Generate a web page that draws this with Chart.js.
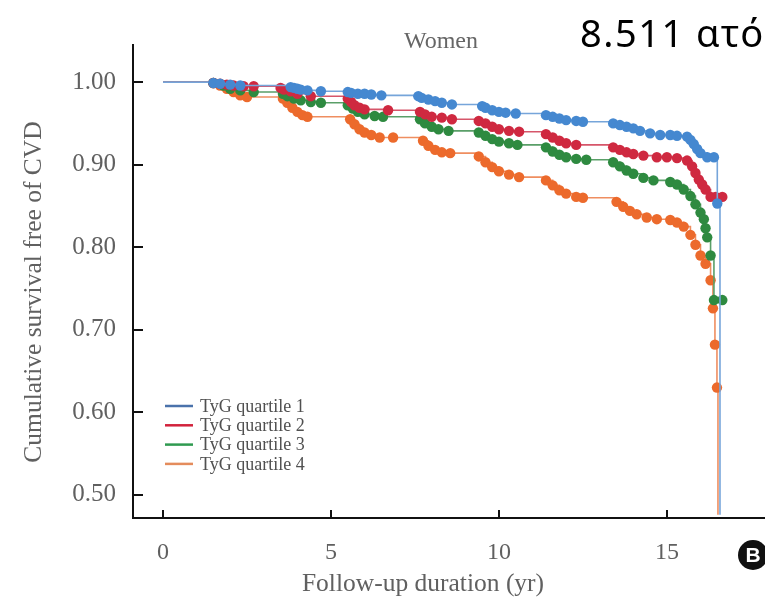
<!DOCTYPE html>
<html><head><meta charset="utf-8">
<script src="https://cdn.jsdelivr.net/npm/chart.js@4.4.1/dist/chart.umd.min.js"></script>
<style>html,body{margin:0;padding:0;background:#fff;overflow:hidden;} canvas{display:block;}</style>
</head><body>
<canvas id="c" width="765" height="602"></canvas>
<script>
// ---- data ----
const seriesLabels = ['TyG quartile 1', 'TyG quartile 2', 'TyG quartile 3', 'TyG quartile 4'];

const q1Time = [0, 1.5, 1.7, 2.0, 2.3, 3.8, 3.9, 4.0, 4.1, 4.3, 4.7, 5.5, 5.6, 5.8, 6.0, 6.2, 6.5, 7.6, 7.7, 7.9, 8.1, 8.3, 8.6, 9.5, 9.6, 9.8, 10.0, 10.2, 10.5, 11.4, 11.6, 11.8, 12.0, 12.3, 12.5, 13.4, 13.6, 13.8, 14.0, 14.2, 14.5, 14.8, 15.1, 15.3, 15.6, 15.7, 15.8, 15.9, 16.0, 16.2, 16.4, 16.5, 16.58];
const q1Surv = [1.000, 0.999, 0.998, 0.997, 0.996, 0.994, 0.993, 0.992, 0.991, 0.990, 0.989, 0.988, 0.987, 0.986, 0.986, 0.985, 0.984, 0.983, 0.981, 0.979, 0.977, 0.975, 0.973, 0.971, 0.969, 0.966, 0.964, 0.963, 0.962, 0.960, 0.958, 0.956, 0.954, 0.953, 0.952, 0.950, 0.948, 0.946, 0.944, 0.941, 0.938, 0.936, 0.936, 0.935, 0.934, 0.930, 0.925, 0.919, 0.914, 0.909, 0.909, 0.853, 0.476];

const q2Time = [0, 1.5, 1.7, 1.9, 2.1, 2.4, 2.7, 3.5, 3.6, 3.8, 4.0, 4.4, 5.5, 5.6, 5.7, 5.85, 6.0, 6.7, 7.65, 7.8, 8.0, 8.3, 8.6, 9.4, 9.6, 9.8, 10.0, 10.3, 10.6, 11.4, 11.6, 11.8, 12.0, 12.3, 13.4, 13.6, 13.8, 14.0, 14.3, 14.7, 15.0, 15.3, 15.6, 15.75, 15.85, 15.95, 16.05, 16.15, 16.3, 16.45, 16.65];
const q2Surv = [1.000, 0.999, 0.998, 0.997, 0.996, 0.995, 0.995, 0.993, 0.991, 0.989, 0.986, 0.983, 0.980, 0.976, 0.972, 0.969, 0.967, 0.966, 0.964, 0.961, 0.958, 0.957, 0.955, 0.953, 0.950, 0.946, 0.943, 0.941, 0.940, 0.937, 0.933, 0.929, 0.926, 0.924, 0.921, 0.918, 0.915, 0.913, 0.911, 0.909, 0.909, 0.908, 0.905, 0.898, 0.890, 0.882, 0.876, 0.870, 0.861, 0.861, 0.861];

const q3Time = [0, 1.5, 1.8, 2.0, 2.3, 2.7, 3.57, 3.7, 3.9, 4.1, 4.4, 4.7, 5.5, 5.65, 5.8, 6.0, 6.3, 6.55, 7.65, 7.8, 8.0, 8.2, 8.5, 9.4, 9.6, 9.8, 10.0, 10.3, 10.55, 11.4, 11.6, 11.8, 12.0, 12.3, 12.6, 13.4, 13.6, 13.8, 14.0, 14.3, 14.6, 15.1, 15.3, 15.5, 15.7, 15.85, 16.0, 16.1, 16.15, 16.2, 16.3, 16.4, 16.65];
const q3Surv = [1.000, 0.999, 0.996, 0.992, 0.990, 0.988, 0.986, 0.983, 0.980, 0.978, 0.976, 0.975, 0.972, 0.968, 0.964, 0.961, 0.959, 0.958, 0.955, 0.950, 0.946, 0.943, 0.941, 0.939, 0.935, 0.931, 0.928, 0.926, 0.924, 0.921, 0.916, 0.912, 0.909, 0.907, 0.906, 0.903, 0.898, 0.893, 0.889, 0.884, 0.881, 0.879, 0.876, 0.870, 0.862, 0.852, 0.842, 0.834, 0.823, 0.812, 0.790, 0.736, 0.736];

const q4Time = [0, 1.5, 1.7, 1.9, 2.1, 2.3, 2.5, 3.57, 3.7, 3.85, 4.0, 4.15, 4.3, 5.57, 5.7, 5.85, 6.0, 6.2, 6.45, 6.85, 7.74, 7.9, 8.1, 8.3, 8.55, 9.4, 9.6, 9.8, 10.0, 10.3, 10.6, 11.4, 11.6, 11.8, 12.0, 12.3, 12.5, 13.5, 13.7, 13.9, 14.1, 14.4, 14.7, 15.1, 15.3, 15.5, 15.7, 15.85, 16.0, 16.15, 16.3, 16.37, 16.43, 16.49, 16.52];
const q4Surv = [1.000, 0.999, 0.996, 0.992, 0.988, 0.984, 0.982, 0.980, 0.975, 0.969, 0.964, 0.960, 0.958, 0.955, 0.949, 0.943, 0.939, 0.936, 0.933, 0.933, 0.929, 0.923, 0.918, 0.915, 0.914, 0.910, 0.903, 0.897, 0.892, 0.888, 0.885, 0.881, 0.875, 0.869, 0.865, 0.861, 0.860, 0.855, 0.849, 0.844, 0.840, 0.836, 0.834, 0.833, 0.830, 0.825, 0.815, 0.803, 0.790, 0.780, 0.760, 0.726, 0.682, 0.630, 0.476];

const xTickValues = [0, 5, 10, 15];
const yTickValues = [0.50, 0.60, 0.70, 0.80, 0.90, 1.00];

const chartTitle = 'Women';
const xAxisTitle = 'Follow-up duration (yr)';
const yAxisTitle = 'Cumulative survival free of CVD';
const overlayText = '8.511 ατό';
const panelLetter = 'B';

// ---- styles ----
const pointColors = ['#4588d0', '#cf2940', '#2e8a40', '#ec6a2c'];
const lineColors = ['#76a5da', '#d6566a', '#5a9f68', '#ef8e60'];
const legendColors = ['#4a72ab', '#d2223c', '#2f9a50', '#e48c5c'];
const SERIF = "'Liberation Serif', 'DejaVu Serif', serif";
const GRAY = '#606060';

function toPoints(t, s) { return t.map((v, i) => ({ x: v, y: s[i] })); }
const allSeries = [[q1Time, q1Surv], [q2Time, q2Surv], [q3Time, q3Surv], [q4Time, q4Surv]];

const datasets = allSeries.map((p, i) => ({
  label: seriesLabels[i],
  data: toPoints(p[0], p[1]),
  stepped: true,
  borderColor: lineColors[i],
  borderWidth: 1.6,
  pointBackgroundColor: pointColors[i],
  pointBorderWidth: 0,
  pointRadius: ctx => (ctx.raw && ctx.raw.y < 0.5) ? 0 : (ctx.raw && ctx.raw.x === 0 ? 0 : 5.2),
  legendColor: legendColors[i]
}));

const decor = {
  id: 'decor',
  afterDraw(chart) {
    const ctx = chart.ctx;
    const xs = chart.scales.x, ys = chart.scales.y;
    const a = chart.chartArea;
    ctx.save();
    // inward tick marks
    ctx.strokeStyle = '#111';
    ctx.lineWidth = 2;
    yTickValues.forEach(v => {
      const py = Math.round(ys.getPixelForValue(v));
      ctx.beginPath(); ctx.moveTo(a.left, py); ctx.lineTo(a.left + 10, py); ctx.stroke();
    });
    xTickValues.forEach(v => {
      const px = Math.round(xs.getPixelForValue(v));
      ctx.beginPath(); ctx.moveTo(px, a.bottom); ctx.lineTo(px, a.bottom - 8); ctx.stroke();
    });
    // chart title
    ctx.fillStyle = '#666';
    ctx.font = '24px ' + SERIF;
    ctx.textAlign = 'center'; ctx.textBaseline = 'middle';
    ctx.fillText(chartTitle, 441, 42);
    // axis titles
    ctx.fillStyle = GRAY;
    ctx.font = '25.5px ' + SERIF;
    ctx.fillText(xAxisTitle, 423, 584);
    ctx.save();
    ctx.translate(34, 292);
    ctx.rotate(-Math.PI / 2);
    ctx.fillText(yAxisTitle, 0, 0);
    ctx.restore();
    // legend
    ctx.font = '18px ' + SERIF;
    ctx.textAlign = 'left';
    chart.data.datasets.forEach((d, i) => {
      const y = 406 + i * 19.3;
      ctx.strokeStyle = d.legendColor; ctx.lineWidth = 2.5;
      ctx.beginPath(); ctx.moveTo(165, y); ctx.lineTo(193, y); ctx.stroke();
      ctx.fillStyle = '#505050';
      ctx.fillText(d.label, 200, y + 1);
    });
    // overlay text
    ctx.fillStyle = '#000';
    ctx.font = "38px 'Noto Sans', 'Open Sans', sans-serif";
    ctx.textAlign = 'left'; ctx.textBaseline = 'alphabetic';
    ctx.letterSpacing = '1.5px';
    ctx.fillText(overlayText, 580, 47);
    ctx.letterSpacing = '0px';
    // panel letter
    ctx.fillStyle = '#111';
    ctx.beginPath(); ctx.arc(753, 555, 15, 0, Math.PI * 2); ctx.fill();
    ctx.fillStyle = '#fff';
    ctx.font = "bold 21px 'Liberation Sans', Arial, sans-serif";
    ctx.textAlign = 'center'; ctx.textBaseline = 'middle';
    ctx.fillText(panelLetter, 753, 556);
    ctx.restore();
  }
};

new Chart(document.getElementById('c'), {
  type: 'line',
  data: { datasets },
  options: {
    responsive: false,
    animation: false,
    events: [],
    layout: { autoPadding: false, padding: { top: 45, right: 0, left: 0, bottom: 0 } },
    plugins: { legend: { display: false }, tooltip: { enabled: false }, title: { display: false } },
    scales: {
      x: {
        type: 'linear', min: -0.893, max: 17.92,
        afterBuildTicks: s => { s.ticks = xTickValues.map(v => ({ value: v })); },
        afterFit: s => { s.height = 84; s.paddingRight = 0; s.paddingLeft = 0; },
        ticks: { color: GRAY, font: { family: SERIF, size: 24 }, padding: 20, maxRotation: 0, autoSkip: false, callback: v => String(v) },
        grid: { display: false, drawTicks: false },
        border: { color: '#111', width: 2 }
      },
      y: {
        type: 'linear', min: 0.472, max: 1.045,
        afterBuildTicks: s => { s.ticks = yTickValues.map(v => ({ value: v })); },
        afterFit: s => { s.width = 133; s.paddingTop = 0; s.paddingBottom = 0; },
        ticks: { color: GRAY, font: { family: SERIF, size: 25 }, padding: 17, autoSkip: false, callback: v => Number(v).toFixed(2) },
        grid: { display: false, drawTicks: false },
        border: { color: '#111', width: 2 }
      }
    }
  },
  plugins: [decor]
});
</script>
</body></html>
